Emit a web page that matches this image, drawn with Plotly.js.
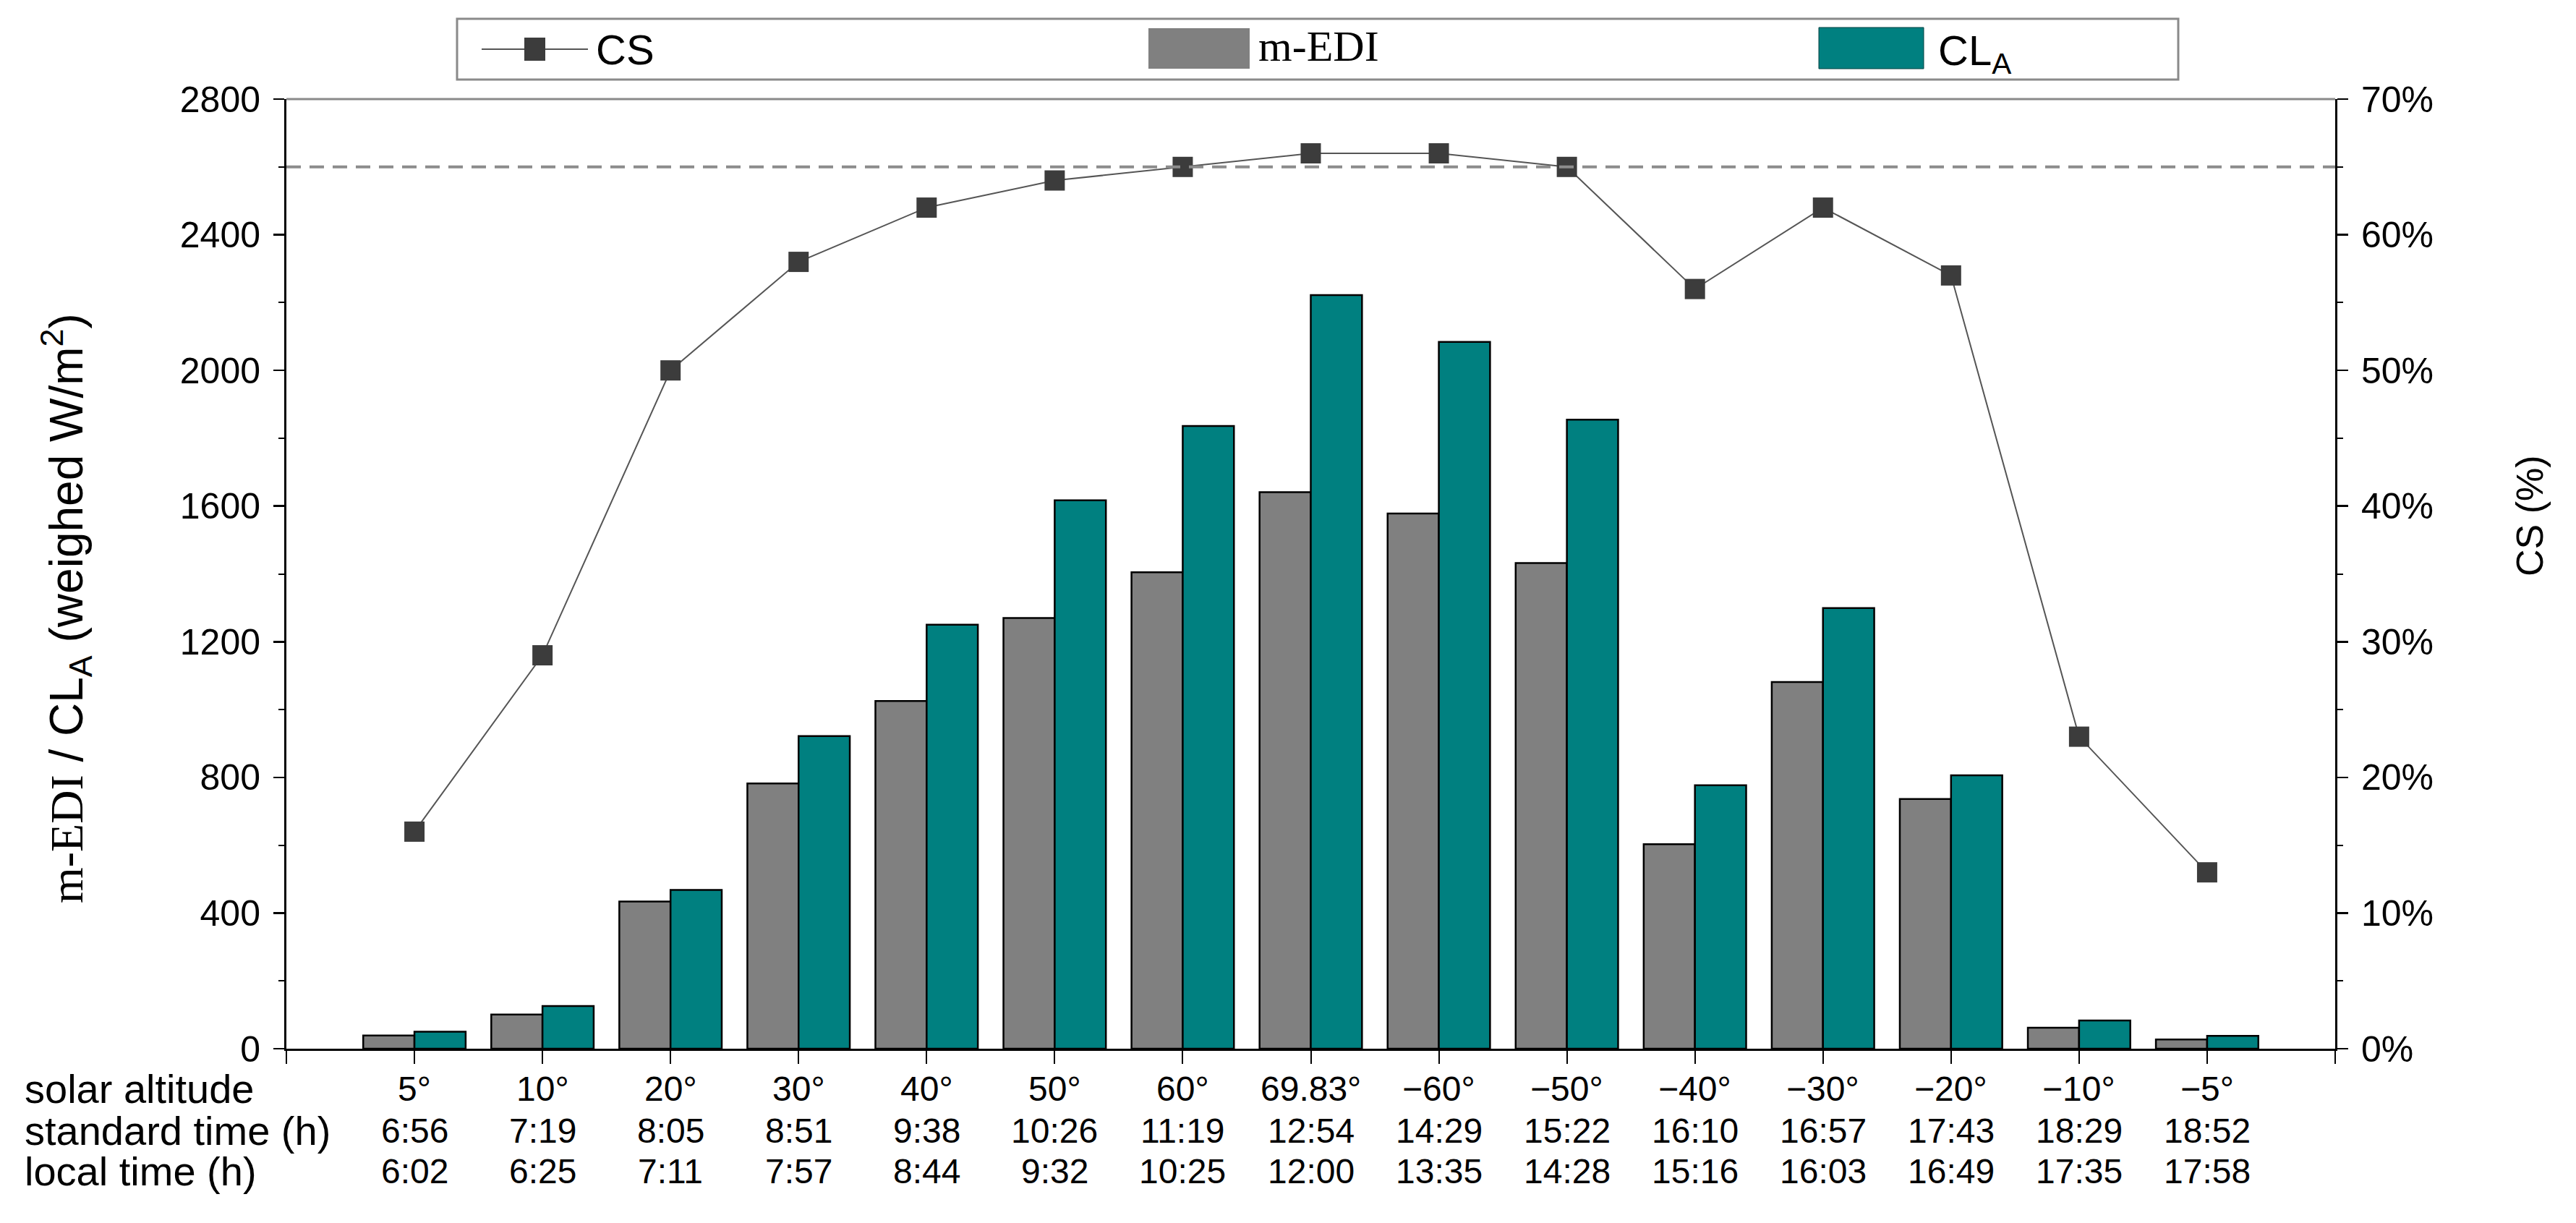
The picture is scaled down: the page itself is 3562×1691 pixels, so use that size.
<!DOCTYPE html>
<html>
<head>
<meta charset="utf-8">
<script src="https://cdn.plot.ly/plotly-3.0.1.min.js"></script>
<style>html,body{margin:0;padding:0;background:#fff;}#chart{width:3562px;height:1691px;}</style>
</head>
<body>
<div id="chart"></div>
<script>
// ---- data ----
const solarAltitude = ["5°","10°","20°","30°","40°","50°","60°","69.83°","−60°","−50°","−40°","−30°","−20°","−10°","−5°"];
const standardTime = ["6:56","7:19","8:05","8:51","9:38","10:26","11:19","12:54","14:29","15:22","16:10","16:57","17:43","18:29","18:52"];
const localTime = ["6:02","6:25","7:11","7:57","8:44","9:32","10:25","12:00","13:35","14:28","15:16","16:03","16:49","17:35","17:58"];
const mEDI = [39, 101, 434, 782, 1025, 1270, 1405, 1641, 1578, 1432, 603, 1081, 736, 62, 27];
const CLA = [50, 126, 468, 922, 1250, 1617, 1836, 2222, 2084, 1855, 777, 1299, 806, 83, 38];
const CS = [16, 29, 50, 58, 62, 64, 65, 66, 66, 65, 56, 62, 57, 23, 13];
const csThreshold = 65; // dashed reference line (%)
const rowHeaders = ["solar altitude", "standard time (h)", "local time (h)"];
const rowLabels = [solarAltitude, standardTime, localTime];

// ---- layout geometry (px) ----
const W = 3562, H = 1691;
const L = 396, R = 3229, T = 137, B = 1450;
const px2x = p => (p - L) / (R - L);
const px2y = p => (B - p) / (B - T);

const xs = solarAltitude.map((_, i) => i + 1);
const tickvals = [0].concat(xs, [xs.length + 1]);

const SANS = "Liberation Sans, Arial, sans-serif";
const SERIF = "Liberation Serif, Times New Roman, serif";

const traces = [
  {type: "bar", name: "m-EDI", x: xs, y: mEDI, marker: {color: "#808080", line: {color: "#000", width: 2.5}}, showlegend: false, yaxis: "y"},
  {type: "bar", name: "CL<sub>A</sub>", x: xs, y: CLA, marker: {color: "#008080", line: {color: "#000", width: 2.5}}, showlegend: false, yaxis: "y"},
  {type: "scatter", mode: "lines+markers", name: "CS", x: xs, y: CS, yaxis: "y2",
   line: {color: "#555", width: 2}, marker: {symbol: "square", size: 28, color: "#3c3c3c"}, showlegend: false}
];

const shapes = [
  // top frame
  {type: "line", xref: "paper", yref: "paper", x0: 0, x1: 1, y0: 1, y1: 1, line: {color: "#8a8a8a", width: 3}},
  // dashed reference line
  {type: "line", xref: "paper", yref: "y2", x0: 0, x1: 1, y0: csThreshold, y1: csThreshold, line: {color: "#8c8c8c", width: 4, dash: "20px,12px"}},
  // legend box
  {type: "rect", xref: "paper", yref: "paper", x0: px2x(632), x1: px2x(3012), y0: px2y(110), y1: px2y(26), line: {color: "#8a8a8a", width: 3}, fillcolor: "rgba(0,0,0,0)"},
  // legend CS line + marker
  {type: "line", xref: "paper", yref: "paper", x0: px2x(666), x1: px2x(813), y0: px2y(68), y1: px2y(68), line: {color: "#555", width: 2}},
  {type: "rect", xref: "paper", yref: "paper", x0: px2x(725), x1: px2x(754), y0: px2y(84), y1: px2y(52), line: {width: 0}, fillcolor: "#3c3c3c"},
  // legend m-EDI swatch
  {type: "rect", xref: "paper", yref: "paper", x0: px2x(1588), x1: px2x(1728), y0: px2y(95), y1: px2y(39), line: {width: 0}, fillcolor: "#808080"},
  // legend CLA swatch
  {type: "rect", xref: "paper", yref: "paper", x0: px2x(2515), x1: px2x(2660), y0: px2y(95), y1: px2y(38), line: {color: "#004040", width: 1}, fillcolor: "#008080"}
];

const annotations = [
  {xref: "paper", yref: "paper", x: px2x(822), y: px2y(68), xanchor: "left", yanchor: "middle", text: "CS", showarrow: false, font: {family: SANS, size: 58, color: "#000"}},
  {xref: "paper", yref: "paper", x: px2x(1738), y: px2y(64), xanchor: "left", yanchor: "middle", text: "m-EDI", showarrow: false, font: {family: SERIF, size: 60, color: "#000"}},
  {xref: "paper", yref: "paper", x: px2x(2678), y: px2y(74), xanchor: "left", yanchor: "middle", text: "CL<sub>A</sub>", showarrow: false, font: {family: SANS, size: 58, color: "#000"}},
  // axis titles
  {xref: "paper", yref: "paper", x: px2x(91), y: px2y(841), xanchor: "center", yanchor: "middle", textangle: -90, showarrow: false,
   text: "<span style=\"font-family:'Liberation Serif',serif\">m-EDI</span> / CL<sub>A</sub> (weighed W/m<sup>2</sup>)", font: {family: SANS, size: 64, color: "#000"}},
  {xref: "paper", yref: "paper", x: px2x(3498), y: px2y(713), xanchor: "center", yanchor: "middle", textangle: -90, showarrow: false,
   text: "CS (%)", font: {family: SANS, size: 52, color: "#000"}}
];
const rowY = [1506, 1563, 1619];
rowHeaders.forEach((h, r) => {
  annotations.push({xref: "paper", yref: "paper", x: px2x(32), y: px2y(rowY[r]), xanchor: "left", yanchor: "middle",
    text: h, showarrow: false, font: {family: SANS, size: 56, color: "#000"}});
  rowLabels[r].forEach((lab, i) => {
    annotations.push({xref: "x", yref: "paper", x: xs[i], y: px2y(rowY[r]), xanchor: "center", yanchor: "middle",
      text: lab, showarrow: false, font: {family: SANS, size: 48, color: "#000"}});
  });
});

const layout = {
  width: W, height: H,
  margin: {l: L, r: W - R, t: T, b: H - B, pad: 0},
  paper_bgcolor: "#fff", plot_bgcolor: "#fff",
  font: {family: SANS, size: 50, color: "#000"},
  barmode: "group", bargap: 0.2, bargroupgap: 0,
  showlegend: false,
  xaxis: {
    range: [0, xs.length + 1], tickmode: "array", tickvals: tickvals, showticklabels: false,
    ticks: "outside", ticklen: 18, tickwidth: 2, tickcolor: "#000",
    showline: true, linecolor: "#000", linewidth: 3, showgrid: false, zeroline: false
  },
  yaxis: {
    range: [0, 2800], dtick: 400, tick0: 0,
    ticks: "outside", ticklen: 15, tickwidth: 2.5, tickcolor: "#000",
    minor: {ticks: "outside", dtick: 200, ticklen: 8, tickwidth: 2, tickcolor: "#000", showgrid: false},
    showline: true, linecolor: "#000", linewidth: 3, showgrid: false, zeroline: false,
    tickfont: {family: SANS, size: 50, color: "#000"}, ticklabelstandoff: 8
  },
  yaxis2: {
    overlaying: "y", side: "right", range: [0, 70], dtick: 10, tick0: 0, ticksuffix: "%",
    ticks: "outside", ticklen: 15, tickwidth: 2.5, tickcolor: "#000",
    minor: {ticks: "outside", dtick: 5, ticklen: 8, tickwidth: 2, tickcolor: "#000", showgrid: false},
    showline: true, linecolor: "#000", linewidth: 3, showgrid: false, zeroline: false,
    tickfont: {family: SANS, size: 50, color: "#000"}, ticklabelstandoff: 8
  },
  shapes: shapes,
  annotations: annotations
};

Plotly.newPlot("chart", traces, layout, {displayModeBar: false, staticPlot: true});
</script>
</body>
</html>
